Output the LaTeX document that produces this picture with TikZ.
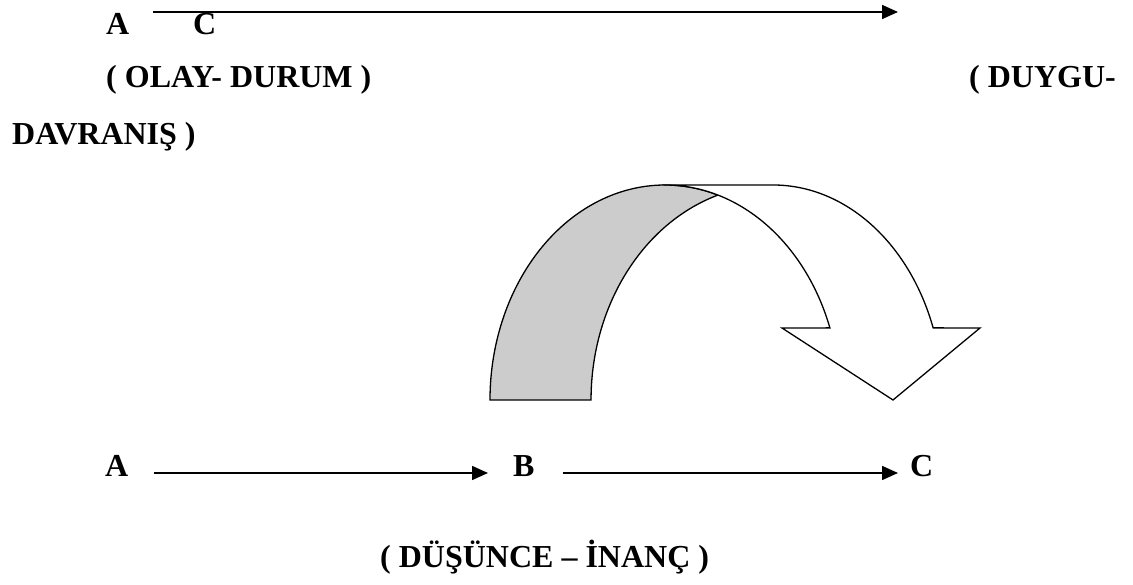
\documentclass[tikz,border=0pt]{standalone}
\usepackage{fontspec}
\setmainfont{Liberation Serif}[BoldFont={Liberation Serif Bold}]
\newfontfamily\tnr{Liberation Serif}[BoldFont={Liberation Serif Bold}]
\usetikzlibrary{arrows.meta}
\tikzset{
  lbl/.style={inner sep=0pt, anchor=base west, font=\tnr\fontsize{32}{38}\selectfont\bfseries},
  arr/.style={line width=1.6pt, -{Triangle[length=16pt,width=14pt]}},
  band/.style={line width=1.3pt, fill={rgb,255:red,204;green,204;blue,204}, line join=miter},
  headshape/.style={line width=1.3pt, fill=white, line join=miter}
}
\begin{document}
\begin{tikzpicture}[x=1pt,y=1pt]
\useasboundingbox (0,0) rectangle (1133,585);
% top row
\node[lbl] (tA) at (106,550) {A};
\node[lbl] (tC) at (193,550) {C};
\coordinate (ts) at (153,573);
\coordinate (te) at (898,573);
\draw[arr] (ts) -- (te);
\node[lbl] (olay) at (106,497) {( OLAY- DURUM )};
\node[lbl] (duygu) at (969,497) {( DUYGU-};
\node[lbl] (davr) at (12,440) {DAVRANIŞ )};
% curved arrow
\draw[band] (490,185) arc[start angle=180,end angle=72.7,x radius=175,y radius=215]
  -- (717.1,389.6) arc[start angle=107.9,end angle=180,x radius=182,y radius=215] -- cycle;
\draw[headshape] (665,400) -- (773,400)
  arc[start angle=90,end angle=19.6,x radius=170,y radius=215]
  -- (980,257) -- (893,185) -- (782,257) -- (829.9,257.1)
  arc[start angle=19.6,end angle=90,x radius=175,y radius=215] -- cycle;
% bottom row
\node[lbl] (A) at (105,108) {A};
\node[lbl] (B) at (513,108) {B};
\node[lbl] (C) at (910,108) {C};
\draw[arr, shorten <=25pt, shorten >=25pt] ([yshift=4pt]A.base east) -- ([yshift=4pt]B.base west);
\draw[arr, shorten <=28pt, shorten >=12pt] ([yshift=4pt]B.base east) -- ([yshift=4pt]C.base west);
\node[lbl] (dus) at (380,17) {( DÜŞÜNCE – İNANÇ )};
\end{tikzpicture}
\end{document}
